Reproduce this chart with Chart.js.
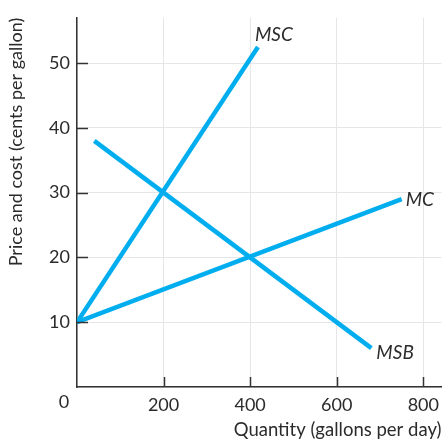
<!DOCTYPE html>
<html>
<head>
<meta charset="utf-8">
<script src="https://cdn.jsdelivr.net/npm/chart.js@4"></script>
<style>
html,body{margin:0;padding:0;background:#fff;}
#wrap{width:446px;height:441px;position:relative;}
</style>
</head>
<body>
<div id="wrap"><canvas id="c" width="446" height="441"></canvas></div>
<script>
// Data
const msc = [{x:0,y:10},{x:418,y:52.5}]; // marginal social cost
const mc  = [{x:0,y:10},{x:750,y:29}];   // marginal cost
const msb = [{x:40,y:38},{x:680,y:6}];   // marginal social benefit
const xTicks = [0,200,400,600,800];
const yTicks = [0,10,20,30,40,50];
const curveLabels = ['MSC','MC','MSB'];

const LINE = '#00aeef';
const FONT = 'Lato, "DejaVu Sans", sans-serif';
const TXT = '#2b2b2b';

const overlay = {
  id:'overlay',
  afterDatasetsDraw(chart){
    const {ctx, scales:{x,y}} = chart;
    const ca = chart.chartArea;
    ctx.save();
    // inner tick marks
    ctx.strokeStyle = '#333'; ctx.lineWidth = 1.5;
    yTicks.filter(v=>v>0).forEach(v=>{
      const py = Math.round(y.getPixelForValue(v))+0.5;
      ctx.beginPath(); ctx.moveTo(ca.left, py); ctx.lineTo(ca.left+11, py); ctx.stroke();
    });
    xTicks.filter(v=>v>0).forEach(v=>{
      const px = Math.round(x.getPixelForValue(v))+0.5;
      ctx.beginPath(); ctx.moveTo(px, ca.bottom); ctx.lineTo(px, ca.bottom-10); ctx.stroke();
    });
    // origin label
    ctx.fillStyle = TXT;
    ctx.font = '18px ' + FONT;
    ctx.textAlign = 'center'; ctx.textBaseline = 'middle';
    ctx.fillText('0', x.getPixelForValue(0)-13, y.getPixelForValue(0)+15);
    // curve labels
    ctx.font = 'italic 19px ' + FONT;
    ctx.textAlign = 'left';
    const e1 = msc[msc.length-1], e2 = mc[mc.length-1], e3 = msb[msb.length-1];
    ctx.textBaseline = 'alphabetic';
    ctx.fillText(curveLabels[0], x.getPixelForValue(e1.x)-3, y.getPixelForValue(e1.y)-6);
    ctx.textBaseline = 'middle';
    ctx.fillText(curveLabels[1], x.getPixelForValue(e2.x)+4, y.getPixelForValue(e2.y)+1);
    ctx.fillText(curveLabels[2], x.getPixelForValue(e3.x)+5, y.getPixelForValue(e3.y)+5);
    ctx.restore();
  }
};

const ds = (d) => ({data:d, showLine:true, borderColor:LINE, backgroundColor:LINE,
  borderWidth:4.5, pointRadius:0, borderCapStyle:'butt', tension:0});

new Chart(document.getElementById('c'), {
  type:'scatter',
  data:{datasets:[ds(msc), ds(mc), ds(msb)]},
  options:{
    responsive:false, animation:false,
    layout:{padding:{top:12,right:1,left:5,bottom:0}},
    plugins:{legend:{display:false}, tooltip:{enabled:false}},
    scales:{
      x:{type:'linear', min:0, max:842,
        afterBuildTicks(s){ s.ticks = xTicks.map(v=>({value:v})); },
        afterFit(s){ s.height = 54; },
        grid:{color:'#e6e6e6', lineWidth:1, drawTicks:false},
        border:{color:'#333', width:1.5},
        ticks:{padding:7, color:TXT, font:{family:FONT,size:18}, maxRotation:0,
          callback:(v)=> v===0 ? '' : String(v)},
        title:{display:true, text:'Quantity (gallons per day)', align:'end', color:TXT,
          font:{family:FONT,size:18.5}, padding:{top:0,bottom:0}}
      },
      y:{type:'linear', min:0, max:57,
        afterBuildTicks(s){ s.ticks = yTicks.map(v=>({value:v})); },
        afterFit(s){ s.width = 72; },
        grid:{color:'#e6e6e6', lineWidth:1, drawTicks:false},
        border:{color:'#333', width:1.5},
        ticks:{padding:7, color:TXT, font:{family:FONT,size:18},
          callback:(v)=> v===0 ? '' : String(v)},
        title:{display:true, text:'Price and cost (cents per gallon)', align:'end', color:TXT,
          font:{family:FONT,size:18}, padding:{top:0,bottom:0}}
      }
    }
  },
  plugins:[overlay]
});
</script>
</body>
</html>
